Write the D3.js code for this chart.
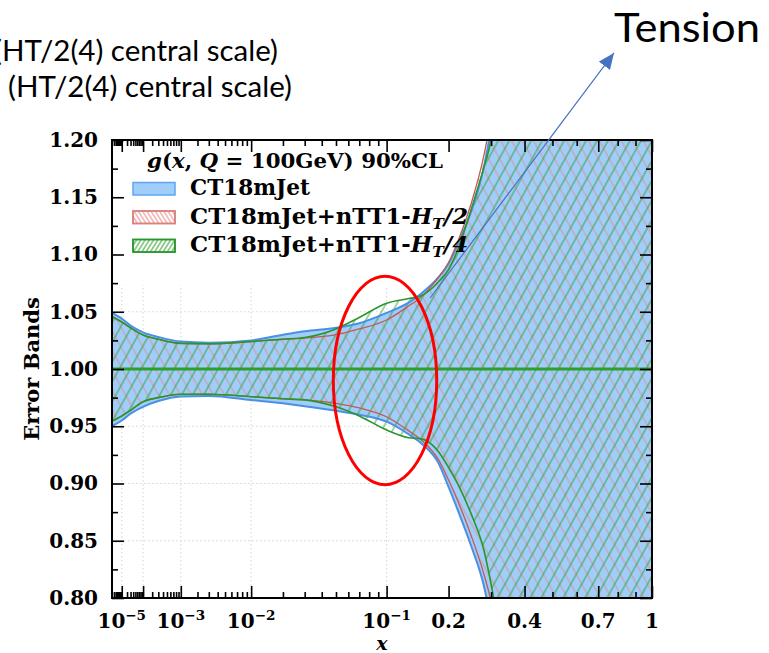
<!DOCTYPE html>
<html>
<head>
<meta charset="utf-8">
<script src="https://cdn.jsdelivr.net/npm/d3@7/dist/d3.min.js"></script>
<style>
html,body{margin:0;padding:0;background:#fff;}
svg{display:block;}
</style>
</head>
<body>
<svg id="chart" width="769" height="653"></svg>
<script>
// ---------------- data ----------------
const xVals    = [2e-6, 1e-5, 3e-5, 1e-4, 3e-4, 1e-3, 3e-3, 1e-2, 0.02, 0.03, 0.05, 0.07, 0.1, 0.13, 0.15, 0.18, 0.2, 0.22, 0.25, 0.28, 0.3, 0.32, 0.35, 0.5, 0.7, 1];
// CT18mJet
const blueUp   = [1.049, 1.044, 1.038, 1.032, 1.028, 1.024, 1.023, 1.025, 1.030, 1.033, 1.036, 1.040, 1.049, 1.058, 1.066, 1.080, 1.092, 1.110, 1.138, 1.175, 1.21, 1.25, 1.32, 1.7, 2.3, 3.0];
const blueLo   = [0.950, 0.955, 0.961, 0.967, 0.972, 0.976, 0.9765, 0.973, 0.970, 0.9675, 0.9635, 0.960, 0.954, 0.943, 0.935, 0.918, 0.897, 0.876, 0.845, 0.812, 0.780, 0.745, 0.69, 0.4, 0.1, 0.0];
// CT18mJet+nTT1-HT/2
const redUp    = [1.0457, 1.041, 1.036, 1.0297, 1.026, 1.0224, 1.022, 1.0239, 1.026, 1.027, 1.030, 1.035, 1.0428, 1.055, 1.063, 1.080, 1.093, 1.112, 1.145, 1.185, 1.22, 1.26, 1.33, 1.7, 2.3, 3.0];
const redLo    = [0.9545, 0.959, 0.964, 0.9714, 0.975, 0.9779, 0.978, 0.9758, 0.974, 0.973, 0.970, 0.966, 0.9583, 0.946, 0.938, 0.921, 0.903, 0.884, 0.854, 0.822, 0.797, 0.765, 0.71, 0.4, 0.1, 0.0];
// CT18mJet+nTT1-HT/4
const greenUp  = [1.0457, 1.041, 1.036, 1.0297, 1.026, 1.0224, 1.022, 1.024, 1.026, 1.0275, 1.035, 1.045, 1.0574, 1.0615, 1.064, 1.076, 1.087, 1.105, 1.140, 1.175, 1.20, 1.24, 1.31, 1.7, 2.3, 3.0];
const greenLo  = [0.9545, 0.959, 0.964, 0.9714, 0.975, 0.9779, 0.978, 0.9758, 0.974, 0.973, 0.967, 0.959, 0.9467, 0.940, 0.939, 0.928, 0.914, 0.899, 0.873, 0.843, 0.812, 0.776, 0.72, 0.4, 0.1, 0.0];

const yTickVals   = [0.80, 0.85, 0.90, 0.95, 1.00, 1.05, 1.10, 1.15, 1.20];
const yMinorVals  = [0.825, 0.875, 0.925, 0.975, 1.025, 1.075, 1.125, 1.175];
const xMajorVals  = [1e-5, 1e-4, 1e-3, 1e-2, 0.1, 0.2, 0.4, 0.7, 1];
const xGridVals   = [1e-5, 1e-4, 1e-3, 1e-2, 0.1];
const xLabelVals  = [1e-5, 1e-3, 1e-2, 0.1, 0.2, 0.4, 0.7, 1];
const xLabelBase  = ["10", "10", "10", "10", "0.2", "0.4", "0.7", "1"];
const xLabelExp   = ["\u22125", "\u22123", "\u22122", "\u22121", "", "", "", ""];
const legendNames = ["CT18mJet", "CT18mJet+nTT1-", "CT18mJet+nTT1-"];
const legendScale = ["", "/2", "/4"];

// annotation positions in data coordinates
const ellipseX = [0.048, 0.177], ellipseY = [0.899, 1.081];
const arrowFrom = [0.165, 1.062], arrowTo = [0.78, 1.276];

// ---------------- scales ----------------
const xMin = 2e-6;
const T = x => Math.pow(x, 0.3) + 0.0094 * Math.log10(x);   // x^0.3-like axis
const xLin = d3.scaleLinear().domain([T(xMin), T(1)]).range([112, 652]);
const xs = x => xLin(T(x));
const y = d3.scaleLinear().domain([0.8, 1.2]).range([598, 140]);
const L = 112, R = 652, TOP = 140, BOT = 598;

const svg = d3.select("#chart");
svg.append("rect").attr("width", 769).attr("height", 653).attr("fill", "#fff");
const defs = svg.append("defs");
defs.append("clipPath").attr("id", "plotclip").append("rect")
  .attr("x", L).attr("y", TOP).attr("width", R - L).attr("height", BOT - TOP);

function hatch(id, color, angle, spacing, sw, op) {
  const p = defs.append("pattern").attr("id", id).attr("patternUnits", "userSpaceOnUse")
    .attr("width", spacing).attr("height", spacing)
    .attr("patternTransform", `rotate(${angle})`);
  p.append("line").attr("x1", -1).attr("x2", spacing + 1)
    .attr("y1", spacing / 2).attr("y2", spacing / 2)
    .attr("stroke", color).attr("stroke-width", sw).attr("stroke-opacity", op);
}
hatch("hRed", "#e8837e", 61, 9.6, 0.9, 0.85);
hatch("hGreen", "#2f9f2f", -61, 9.6, 1.0, 0.9);
hatch("lRed", "#e07c78", 58, 3.6, 0.9, 1);
hatch("lGreen", "#2f9e2f", -58, 3.6, 1.0, 1);

// ---------------- grid ----------------
const grid = svg.append("g").attr("clip-path", "url(#plotclip)")
  .attr("stroke", "#d4d4d4").attr("stroke-width", 1).attr("stroke-dasharray", "1.5,2.5");
grid.selectAll("line.gy").data(yTickVals.slice(1, -1)).join("line")
  .attr("x1", L).attr("x2", R).attr("y1", d => y(d)).attr("y2", d => y(d));
grid.selectAll("line.gx").data(xGridVals).join("line").attr("class", "gx")
  .attr("x1", d => xs(d)).attr("x2", d => xs(d)).attr("y1", TOP).attr("y2", BOT);
// legend background hides grid under legend
svg.append("rect").attr("x", 116).attr("y", 143).attr("width", 362).attr("height", 142).attr("fill", "#fff");

// ---------------- bands ----------------
const band = (lo, up) => xVals.map((x, i) => ({ x, lo: lo[i], up: up[i] }));
const bBlue = band(blueLo, blueUp), bRed = band(redLo, redUp), bGreen = band(greenLo, greenUp);
const area = d3.area().x(d => xs(d.x)).y0(d => y(d.lo)).y1(d => y(d.up)).curve(d3.curveMonotoneX);
const lineUp = d3.line().x(d => xs(d.x)).y(d => y(d.up)).curve(d3.curveMonotoneX);
const lineLo = d3.line().x(d => xs(d.x)).y(d => y(d.lo)).curve(d3.curveMonotoneX);

const plot = svg.append("g").attr("clip-path", "url(#plotclip)");
plot.append("path").datum(bBlue).attr("d", area).attr("fill", "#a0cdf9");
plot.append("path").datum(bRed).attr("d", area).attr("fill", "url(#hRed)");
plot.append("path").datum(bGreen).attr("d", area).attr("fill", "url(#hGreen)");
[[bBlue, "#4a90e6", 2.0], [bRed, "#c05a55", 1.3], [bGreen, "#2a962a", 1.6]].forEach(([d, c, w]) => {
  plot.append("path").datum(d).attr("d", lineUp).attr("fill", "none").attr("stroke", c).attr("stroke-width", w);
  plot.append("path").datum(d).attr("d", lineLo).attr("fill", "none").attr("stroke", c).attr("stroke-width", w);
});
plot.append("line").attr("x1", L).attr("x2", R).attr("y1", y(1)).attr("y2", y(1))
  .attr("stroke", "#2ca02c").attr("stroke-width", 3);

// ---------------- axes ----------------
const xMinorVals = [];
[1e-6, 1e-5, 1e-4, 1e-3, 1e-2].forEach(d => d3.range(2, 10).forEach(k => { if (k * d >= xMin) xMinorVals.push(k * d); }));
[0.3, 0.5, 0.6, 0.8, 0.9].forEach(v => xMinorVals.push(v));

function styleAxis(g) {
  g.select(".domain").remove();
  g.selectAll(".tick line").attr("stroke", "#000").attr("stroke-width", 1.6);
}
svg.append("g").attr("transform", `translate(0,${BOT})`)
  .call(d3.axisBottom(xLin).tickValues(xMajorVals.map(T)).tickSize(-12).tickFormat("")).call(styleAxis);
svg.append("g").attr("transform", `translate(0,${BOT})`)
  .call(d3.axisBottom(xLin).tickValues(xMinorVals.map(T)).tickSize(-6).tickFormat("")).call(styleAxis);
svg.append("g").attr("transform", `translate(0,${TOP})`)
  .call(d3.axisTop(xLin).tickValues(xMajorVals.map(T)).tickSize(-12).tickFormat("")).call(styleAxis);
svg.append("g").attr("transform", `translate(0,${TOP})`)
  .call(d3.axisTop(xLin).tickValues(xMinorVals.map(T)).tickSize(-6).tickFormat("")).call(styleAxis);

const yAxisG = svg.append("g").attr("transform", `translate(${L},0)`)
  .call(d3.axisLeft(y).tickValues(yTickVals).tickSize(-12).tickPadding(14).tickFormat(d3.format(".2f")))
  .call(styleAxis);
yAxisG.attr("font-family", "DejaVu Serif").attr("font-size", 20).attr("font-weight", "bold");
yAxisG.selectAll("text").attr("fill", "#000");
svg.append("g").attr("transform", `translate(${L},0)`)
  .call(d3.axisLeft(y).tickValues(yMinorVals).tickSize(-6).tickFormat("")).call(styleAxis);
svg.append("g").attr("transform", `translate(${R},0)`)
  .call(d3.axisRight(y).tickValues(yTickVals).tickSize(-12).tickFormat("")).call(styleAxis);
svg.append("g").attr("transform", `translate(${R},0)`)
  .call(d3.axisRight(y).tickValues(yMinorVals).tickSize(-6).tickFormat("")).call(styleAxis);

svg.append("rect").attr("x", L).attr("y", TOP).attr("width", R - L).attr("height", BOT - TOP)
  .attr("fill", "none").attr("stroke", "#000").attr("stroke-width", 2);

// x tick labels
const xl = svg.append("g").attr("font-family", "DejaVu Serif").attr("font-weight", "bold").attr("fill", "#000");
xLabelVals.forEach((v, i) => {
  const t = xl.append("text").attr("x", xs(v)).attr("y", 628).attr("text-anchor", "middle").attr("font-size", 20);
  t.append("tspan").text(xLabelBase[i]);
  if (xLabelExp[i]) t.append("tspan").attr("dy", -8).attr("font-size", 13.5).text(xLabelExp[i]);
});

// axis titles
svg.append("text").attr("transform", `translate(39,${y(1)}) rotate(-90)`).attr("text-anchor", "middle")
  .attr("font-family", "DejaVu Serif").attr("font-weight", "bold").attr("font-size", 21).text("Error Bands");
svg.append("text").attr("x", (L + R) / 2).attr("y", 650).attr("text-anchor", "middle")
  .attr("font-family", "DejaVu Serif").attr("font-style", "italic").attr("font-weight", "bold").attr("font-size", 19).text("x");

// ---------------- legend ----------------
const lg = svg.append("g").attr("font-family", "DejaVu Serif").attr("font-weight", "bold").attr("fill", "#000");
const title = lg.append("text").attr("x", 147).attr("y", 168).attr("font-size", 21)
  .attr("textLength", 296).attr("lengthAdjust", "spacingAndGlyphs");
title.append("tspan").attr("font-style", "italic").text("g");
title.append("tspan").text("(");
title.append("tspan").attr("font-style", "italic").text("x");
title.append("tspan").text(", ");
title.append("tspan").attr("font-style", "italic").text("Q");
title.append("tspan").text(" = 100GeV) 90%CL");

const patchFill = ["#a0cdf9", "url(#lRed)", "url(#lGreen)"];
const patchStroke = ["#5ea6f0", "#d9817c", "#2a962a"];
const rowY = [195, 223.5, 252];
legendNames.forEach((name, i) => {
  lg.append("rect").attr("x", 133).attr("y", rowY[i] - 12.5).attr("width", 42).attr("height", 12.5)
    .attr("fill", i === 0 ? patchFill[0] : "#fff").attr("stroke", patchStroke[i]).attr("stroke-width", 1.5);
  if (i > 0) lg.append("rect").attr("x", 133).attr("y", rowY[i] - 12.5).attr("width", 42).attr("height", 12.5)
    .attr("fill", patchFill[i]).attr("stroke", patchStroke[i]).attr("stroke-width", 1.5);
  const t = lg.append("text").attr("x", 190).attr("y", rowY[i]).attr("font-size", 22);
  if (i === 0) {
    t.attr("textLength", 120).attr("lengthAdjust", "spacingAndGlyphs");
    t.text(name);
  } else {
    t.attr("textLength", 278).attr("lengthAdjust", "spacingAndGlyphs");
    t.append("tspan").text(name);
    t.append("tspan").attr("font-style", "italic").text("H");
    t.append("tspan").attr("font-style", "italic").attr("font-size", 15).attr("dy", 5).text("T");
    t.append("tspan").attr("dy", -5).attr("font-style", "italic").text(legendScale[i]);
  }
});

// ---------------- annotations ----------------
const ex0 = xs(ellipseX[0]), ex1 = xs(ellipseX[1]);
svg.append("ellipse").attr("cx", (ex0 + ex1) / 2).attr("cy", (y(ellipseY[0]) + y(ellipseY[1])) / 2)
  .attr("rx", (ex1 - ex0) / 2).attr("ry", (y(ellipseY[0]) - y(ellipseY[1])) / 2)
  .attr("fill", "none").attr("stroke", "#ff0000").attr("stroke-width", 3);

defs.append("marker").attr("id", "arrowhead").attr("markerUnits", "userSpaceOnUse")
  .attr("markerWidth", 17).attr("markerHeight", 14).attr("refX", 16).attr("refY", 7).attr("orient", "auto")
  .append("path").attr("d", "M0,0 L16,7 L0,14 Z").attr("fill", "#4472c4");
svg.append("line").attr("x1", xs(arrowFrom[0])).attr("y1", y(arrowFrom[1]))
  .attr("x2", xs(arrowTo[0])).attr("y2", y(arrowTo[1]))
  .attr("stroke", "#4472c4").attr("stroke-width", 1.2).attr("marker-end", "url(#arrowhead)");

const ann = svg.append("g").attr("font-family", "Lato, 'Open Sans', sans-serif").attr("fill", "#000");
ann.append("text").attr("x", 614).attr("y", 42).attr("font-size", 41.5)
  .attr("textLength", 146).attr("lengthAdjust", "spacingAndGlyphs").text("Tension");
ann.append("text").attr("x", -6).attr("y", 61).attr("font-size", 28)
  .attr("textLength", 284).attr("lengthAdjust", "spacingAndGlyphs").text("(HT/2(4) central scale)");
ann.append("text").attr("x", 8).attr("y", 97).attr("font-size", 28)
  .attr("textLength", 284).attr("lengthAdjust", "spacingAndGlyphs").text("(HT/2(4) central scale)");
</script>
</body>
</html>
